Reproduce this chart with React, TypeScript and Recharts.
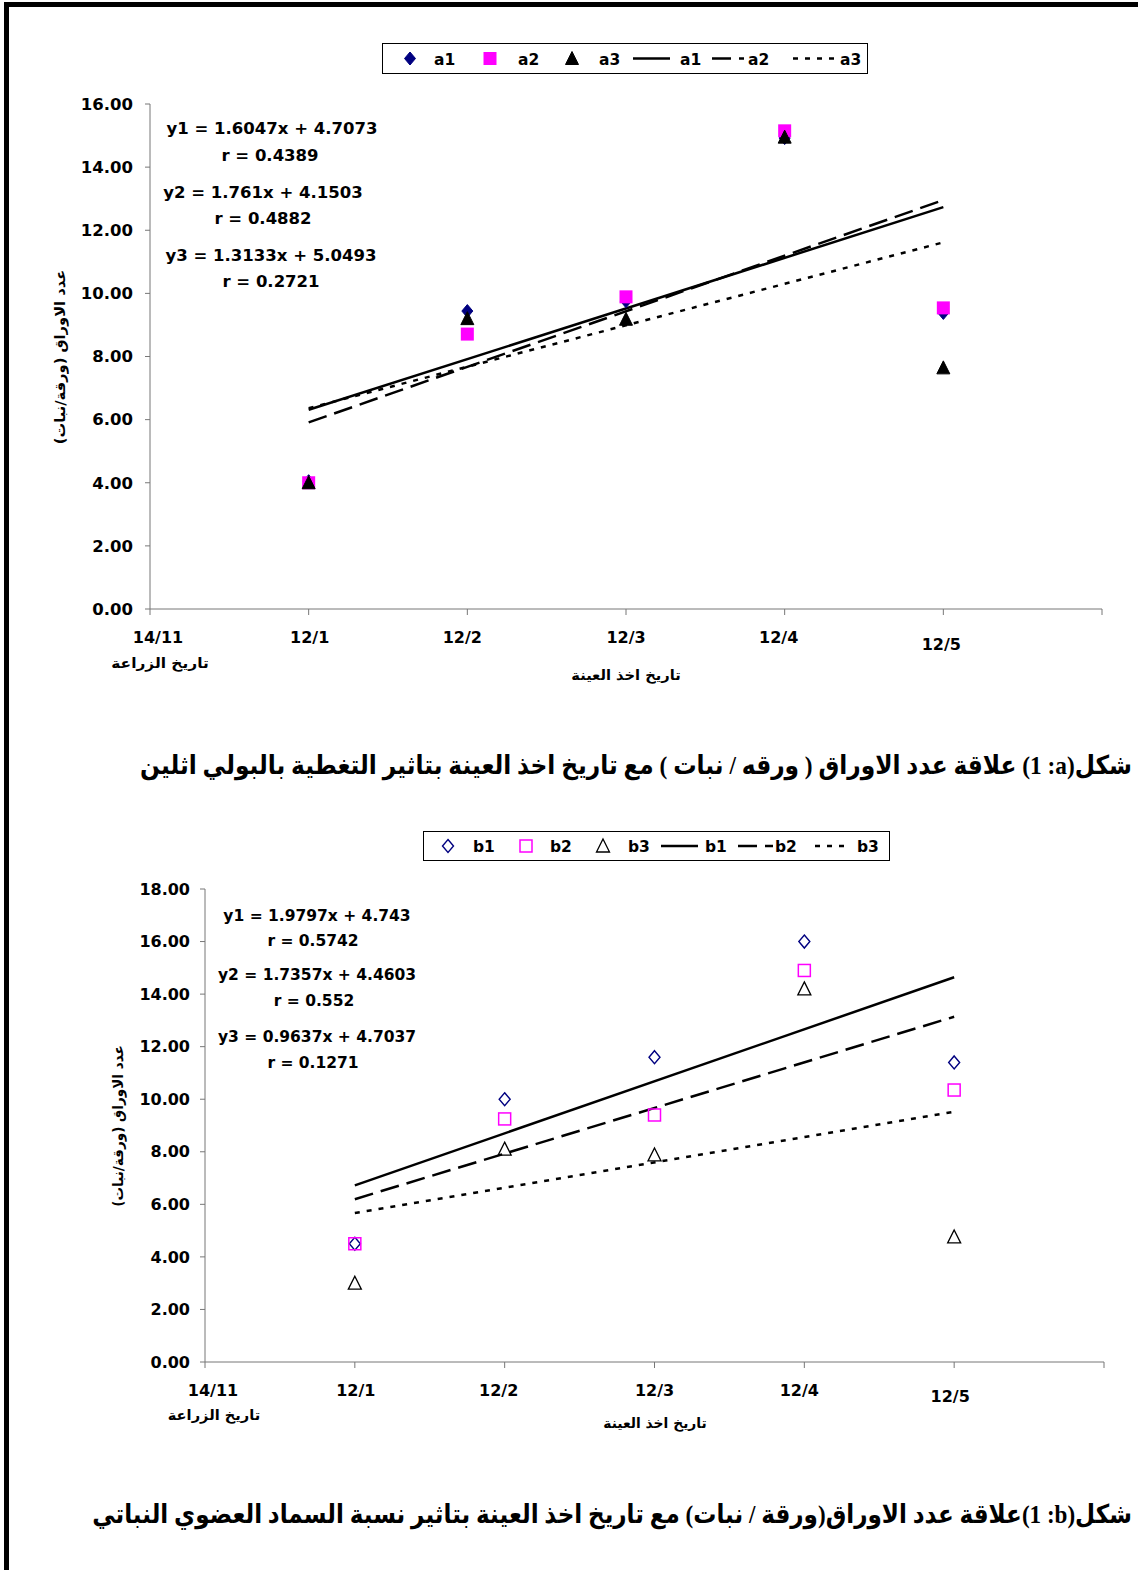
import React, { useLayoutEffect, useRef, useState } from 'react';
import { ScatterChart, Scatter, XAxis, YAxis, ReferenceLine } from 'recharts';

// ---------- data ----------
const xTickValues = [0, 1, 2, 3, 4, 5, 6];
const xTickLabels = ['14/11', '12/1', '12/2', '12/3', '12/4', '12/5', ''];
const sampleX = [1, 2, 3, 4, 5];

const a1 = [4.05, 9.44, 9.75, 14.92, 9.38];
const a2 = [4.0, 8.71, 9.89, 15.15, 9.54];
const a3 = [4.0, 9.2, 9.18, 14.95, 7.64];
const aSlopes = [1.6047, 1.761, 1.3133];
const aIntercepts = [4.7073, 4.1503, 5.0493];
const aR = ['0.4389', '0.4882', '0.2721'];
const aYTicks = [0, 2, 4, 6, 8, 10, 12, 14, 16];

const b1 = [4.5, 10.0, 11.6, 16.0, 11.4];
const b2 = [4.5, 9.25, 9.4, 14.9, 10.35];
const b3 = [3.0, 8.1, 7.88, 14.2, 4.76];
const bSlopes = [1.9797, 1.7357, 0.9637];
const bIntercepts = [4.743, 4.4603, 4.7037];
const bR = ['0.5742', '0.552', '0.1271'];
const bYTicks = [0, 2, 4, 6, 8, 10, 12, 14, 16, 18];

const captionA = 'شكل(a: 1) علاقة عدد الاوراق ( ورقه / نبات ) مع تاريخ اخذ العينة بتاثير التغطية بالبولي اثلين';
const captionB = 'شكل(b: 1)علاقة عدد الاوراق(ورقة / نبات) مع تاريخ اخذ العينة بتاثير نسبة السماد العضوي النباتي';
const yTitle = 'عدد الاوراق (ورقة/نبات)';
const sowLabel = 'تاريخ الزراعة';
const sampleLabel = 'تاريخ اخذ العينة';

// ---------- styles ----------
const FONT = "'DejaVu Sans', sans-serif";
const AXIS = '#777';
const NAVY = '#000080';
const MAGENTA = '#FF00FF';
const DASHES = ['', '19 8', '5 7'];
const tickOffsetsA = [[8, 0], [1, 0], [-5, 0], [0, 0], [-6, 0], [-2, 7], [0, 0]];
const tickOffsetsB = [[8, 0], [1, 0], [-6, 0], [0, 0], [-5, 0], [-4, 6], [0, 0]];

const toPoints = (ys: number[]) => sampleX.map((x, i) => ({ x, y: ys[i] }));

// ---------- shapes ----------
const Diamond = (filled: boolean) => (p: any) => {
  const { cx, cy } = p;
  return (
    <polygon
      points={`${cx},${cy - 6.5} ${cx + 5.5},${cy} ${cx},${cy + 6.5} ${cx - 5.5},${cy}`}
      fill={filled ? NAVY : 'none'}
      stroke={NAVY}
      strokeWidth={filled ? 1 : 1.4}
    />
  );
};
const Square = (filled: boolean) => (p: any) => {
  const { cx, cy } = p;
  return filled ? (
    <rect x={cx - 6.5} y={cy - 6.5} width={13} height={13} fill={MAGENTA} />
  ) : (
    <rect x={cx - 6} y={cy - 6} width={12} height={12} fill="none" stroke={MAGENTA} strokeWidth={1.5} />
  );
};
const Triangle = (filled: boolean) => (p: any) => {
  const { cx, cy } = p;
  return (
    <polygon
      points={`${cx},${cy - 7} ${cx + 6.5},${cy + 6} ${cx - 6.5},${cy + 6}`}
      fill={filled ? '#000' : 'none'}
      stroke="#000"
      strokeWidth={filled ? 1 : 1.3}
    />
  );
};

// ---------- helpers ----------
function FitText({ text, cx, cy, width, fontSize, rotate = 0, override = false, font = FONT }: any) {
  const ref = useRef<HTMLSpanElement>(null);
  const [s, setS] = useState(1);
  useLayoutEffect(() => {
    if (ref.current) {
      const w = ref.current.offsetWidth;
      if (w > 0) setS(width / w);
    }
  }, [text, width, fontSize]);
  return (
    <span
      ref={ref}
      style={{
        position: 'absolute',
        left: cx,
        top: cy,
        whiteSpace: 'nowrap',
        fontFamily: font,
        fontWeight: 'bold',
        fontSize,
        lineHeight: 1,
        direction: 'rtl',
        unicodeBidi: override ? 'bidi-override' : 'normal',
        transform: `translate(-50%,-50%) rotate(${rotate}deg) scaleX(${s})`,
        transformOrigin: 'center center',
        color: '#000',
      }}
    >
      {text}
    </span>
  );
}

function Label({ text, cx, cy, fontSize }: any) {
  return (
    <span
      style={{
        position: 'absolute',
        left: cx,
        top: cy,
        whiteSpace: 'nowrap',
        fontFamily: FONT,
        fontWeight: 'bold',
        fontSize,
        lineHeight: 1,
        transform: 'translate(-50%,-50%)',
        color: '#000',
      }}
    >
      {text}
    </span>
  );
}

const makeTick = (offsets: number[][]) => (props: any) => {
  const { x, y, payload } = props;
  const i = xTickValues.indexOf(payload.value);
  const label = xTickLabels[i] ?? '';
  const off = offsets[i] || [0, 0];
  return (
    <text x={x + off[0]} y={y + 28 + off[1]} textAnchor="middle" fontFamily={FONT} fontWeight="bold" fontSize={16} fill="#000">
      {label}
    </text>
  );
};

function LegendBox({ left, top, width, height, prefix, filled, pos }: any) {
  const cy = height / 2;
  const shapes = [Diamond(filled), Square(filled), Triangle(filled)];
  const textStyle = { fontFamily: FONT, fontWeight: 'bold' as const, fontSize: 15.5 };
  return (
    <svg style={{ position: 'absolute', left, top }} width={width} height={height}>
      <rect x={0.5} y={0.5} width={width - 1} height={height - 1} fill="#fff" stroke="#000" strokeWidth={1} />
      {[0, 1, 2].map((k) => (
        <g key={'m' + k}>
          {shapes[k]({ cx: pos.markers[k], cy })}
          <text x={pos.markerText[k]} y={cy + 6} {...textStyle}>{`${prefix}${k + 1}`}</text>
        </g>
      ))}
      {[0, 1, 2].map((k) => (
        <g key={'l' + k}>
          <line
            x1={pos.lines[k][0]}
            x2={pos.lines[k][1]}
            y1={cy}
            y2={cy}
            stroke="#000"
            strokeWidth={2.5}
            strokeDasharray={DASHES[k] || undefined}
          />
          <text x={pos.lineText[k]} y={cy + 6} {...textStyle}>{`${prefix}${k + 1}`}</text>
        </g>
      ))}
    </svg>
  );
}

function TrendChart({ top, height, margin, yDomain, yTicks, series, slopes, intercepts, filled, tickOffsets, yFont, yTickMargin }: any) {
  const shapes = [Diamond(filled), Square(filled), Triangle(filled)];
  return (
    <div style={{ position: 'absolute', left: 0, top }}>
      <ScatterChart width={1138} height={height} margin={margin}>
        <XAxis
          type="number"
          dataKey="x"
          domain={[0, 6]}
          ticks={xTickValues}
          interval={0}
          height={60}
          tickSize={6}
          tickMargin={0}
          stroke={AXIS}
          tickLine={{ stroke: AXIS }}
          axisLine={{ stroke: AXIS }}
          tick={makeTick(tickOffsets)}
          allowDataOverflow
        />
        <YAxis
          type="number"
          dataKey="y"
          domain={yDomain}
          ticks={yTicks}
          interval={0}
          width={60}
          tickSize={5}
          tickMargin={yTickMargin}
          stroke={AXIS}
          tickLine={{ stroke: AXIS }}
          axisLine={{ stroke: AXIS }}
          tickFormatter={(v: number) => v.toFixed(2)}
          tick={{ fill: '#000', fontFamily: FONT, fontWeight: 'bold', fontSize: yFont }}
          allowDataOverflow
        />
        {series.map((s: number[], k: number) => (
          <Scatter key={'s' + k} data={toPoints(s)} shape={shapes[k]} isAnimationActive={false} />
        ))}
        {slopes.map((m: number, k: number) => (
          <ReferenceLine
            key={'t' + k}
            segment={[
              { x: sampleX[0], y: m * sampleX[0] + intercepts[k] },
              { x: sampleX[sampleX.length - 1], y: m * sampleX[sampleX.length - 1] + intercepts[k] },
            ]}
            stroke="#000"
            strokeWidth={2.5}
            strokeDasharray={DASHES[k] || undefined}
            ifOverflow="visible"
          />
        ))}
      </ScatterChart>
    </div>
  );
}

export default function App() {
  const eqA = [
    { cx: 272, cy: 129, r: 270, rcy: 156 },
    { cx: 263, cy: 193, r: 263, rcy: 219 },
    { cx: 271, cy: 256, r: 271, rcy: 282 },
  ];
  const eqB = [
    { cx: 317, cy: 917, r: 313, rcy: 942 },
    { cx: 317, cy: 976, r: 314, rcy: 1002 },
    { cx: 317, cy: 1038, r: 313, rcy: 1064 },
  ];
  return (
    <div style={{ position: 'absolute', left: 0, top: 0, width: 1138, height: 1570, background: '#fff', overflow: 'hidden' }}>
      {/* page border */}
      <div style={{ position: 'absolute', left: 4, top: 2, width: 5, height: 1568, background: '#000' }} />
      <div style={{ position: 'absolute', left: 4, top: 2, width: 1134, height: 5, background: '#000' }} />

      {/* chart a */}
      <TrendChart
        top={0}
        height={720}
        margin={{ top: 104, right: 36, bottom: 51, left: 90 }}
        yDomain={[0, 16]}
        yTicks={aYTicks}
        series={[a1, a2, a3]}
        slopes={aSlopes}
        intercepts={aIntercepts}
        filled={true}
        tickOffsets={tickOffsetsA}
        yFont={16.5}
        yTickMargin={12}
      />
      <LegendBox
        left={382}
        top={43}
        width={486}
        height={31}
        prefix="a"
        filled={true}
        pos={{ markers: [28, 108, 190], markerText: [52, 136, 217], lines: [[251, 288], [330, 362], [411, 452]], lineText: [298, 366, 458] }}
      />
      {eqA.map((e, k) => (
        <React.Fragment key={'ea' + k}>
          <Label text={`y${k + 1} = ${aSlopes[k]}x + ${aIntercepts[k]}`} cx={e.cx} cy={e.cy} fontSize={16.5} />
          <Label text={`r = ${aR[k]}`} cx={e.r} cy={e.rcy} fontSize={16.5} />
        </React.Fragment>
      ))}
      <FitText text={yTitle} cx={60} cy={357} width={175} fontSize={14} rotate={-90} />
      <FitText text={sowLabel} cx={160} cy={663} width={97} fontSize={14} />
      <FitText text={sampleLabel} cx={626} cy={675} width={110} fontSize={14} />
      <FitText text={captionA} cx={636} cy={766} width={992} fontSize={26} override font={"'Liberation Serif', 'DejaVu Sans', serif"} />

      {/* chart b */}
      <TrendChart
        top={790}
        height={720}
        margin={{ top: 99, right: 34, bottom: 88, left: 145 }}
        yDomain={[0, 18]}
        yTicks={bYTicks}
        series={[b1, b2, b3]}
        slopes={bSlopes}
        intercepts={bIntercepts}
        filled={false}
        tickOffsets={tickOffsetsB}
        yFont={16}
        yTickMargin={10}
      />
      <LegendBox
        left={423}
        top={831}
        width={467}
        height={30}
        prefix="b"
        filled={false}
        pos={{ markers: [25, 103, 180], markerText: [50, 127, 205], lines: [[238, 275], [315, 350], [392, 428]], lineText: [282, 352, 434] }}
      />
      {eqB.map((e, k) => (
        <React.Fragment key={'eb' + k}>
          <Label text={`y${k + 1} = ${bSlopes[k]}x + ${bIntercepts[k]}`} cx={e.cx} cy={e.cy} fontSize={15.5} />
          <Label text={`r = ${bR[k]}`} cx={e.r} cy={e.rcy} fontSize={15.5} />
        </React.Fragment>
      ))}
      <FitText text={yTitle} cx={118} cy={1126} width={162} fontSize={14} rotate={-90} />
      <FitText text={sowLabel} cx={214} cy={1415} width={92} fontSize={14} />
      <FitText text={sampleLabel} cx={655} cy={1423} width={104} fontSize={14} />
      <FitText text={captionB} cx={612} cy={1515} width={1040} fontSize={26} override font={"'Liberation Serif', 'DejaVu Sans', serif"} />
    </div>
  );
}
